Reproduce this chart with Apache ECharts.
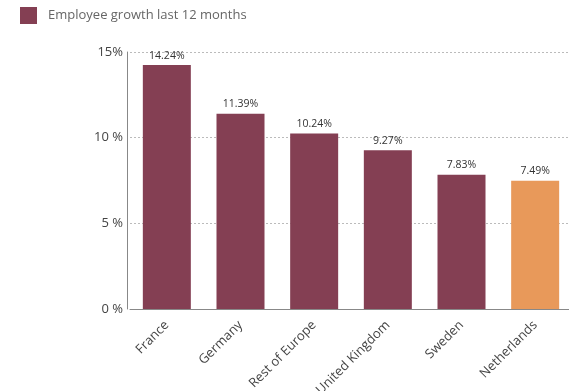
<!DOCTYPE html>
<html><head><meta charset="utf-8">
<script src="https://cdn.jsdelivr.net/npm/echarts@6/dist/echarts.min.js"></script>
<style>html,body{margin:0;padding:0;background:#fff}#c{width:569px;height:391px}</style>
</head><body><div id="c"></div>
<script>
var categories = ['France', 'Germany', 'Rest of Europe', 'United Kingdom', 'Sweden', 'Netherlands'];
var values = [14.24, 11.39, 10.24, 9.27, 7.83, 7.49];
var barColors = ['#843f53', '#843f53', '#843f53', '#843f53', '#843f53', '#e8995a'];
var yTicks = [0, 5, 10, 15];
var seriesName = 'Employee growth last 12 months';

var chart = echarts.init(document.getElementById('c'));
var font = '"Open Sans", "Noto Sans", sans-serif';
chart.setOption({
  animation: false,
  textStyle: { fontFamily: font },
  legend: {
    left: 20, top: 7, padding: 0, itemWidth: 17, itemHeight: 17, itemGap: 10,
    icon: 'rect',
    textStyle: { fontSize: 13, color: '#666', fontFamily: font, padding: [0, 0, 0, 6] },
    data: [{ name: seriesName, itemStyle: { color: '#843f53' } }]
  },
  grid: { left: 130, width: 442, top: 52, height: 257, containLabel: false, outerBoundsMode: 'none' },
  xAxis: {
    type: 'category', data: categories,
    axisLine: { lineStyle: { color: '#888', width: 1 } },
    axisTick: { show: false },
    axisLabel: { rotate: 45, margin: 14, fontSize: 13, color: '#444', fontFamily: font, interval: 0 }
  },
  yAxis: {
    type: 'value', min: 0, max: 15, interval: 5, offset: 3,
    axisLine: { show: true, lineStyle: { color: '#888', width: 1 } },
    axisTick: { show: false },
    splitLine: { lineStyle: { color: '#bbb', type: [2, 2] } },
    axisLabel: {
      fontSize: 13, color: '#444', margin: 4, fontFamily: font,
      formatter: function (v) { return yTicks.indexOf(v) >= 0 ? (v === 15 ? v + '%' : v + ' %') : ''; }
    }
  },
  series: [{
    name: seriesName, type: 'bar', barWidth: 48,
    data: values.map(function (v, i) { return { value: v, itemStyle: { color: barColors[i] } }; }),
    itemStyle: { color: '#843f53' },
    label: {
      show: true, position: 'top', distance: 4, fontSize: 10.5, color: '#333', fontFamily: font,
      formatter: function (p) { return p.value.toFixed(2) + '%'; }
    }
  }]
});
</script></body></html>
